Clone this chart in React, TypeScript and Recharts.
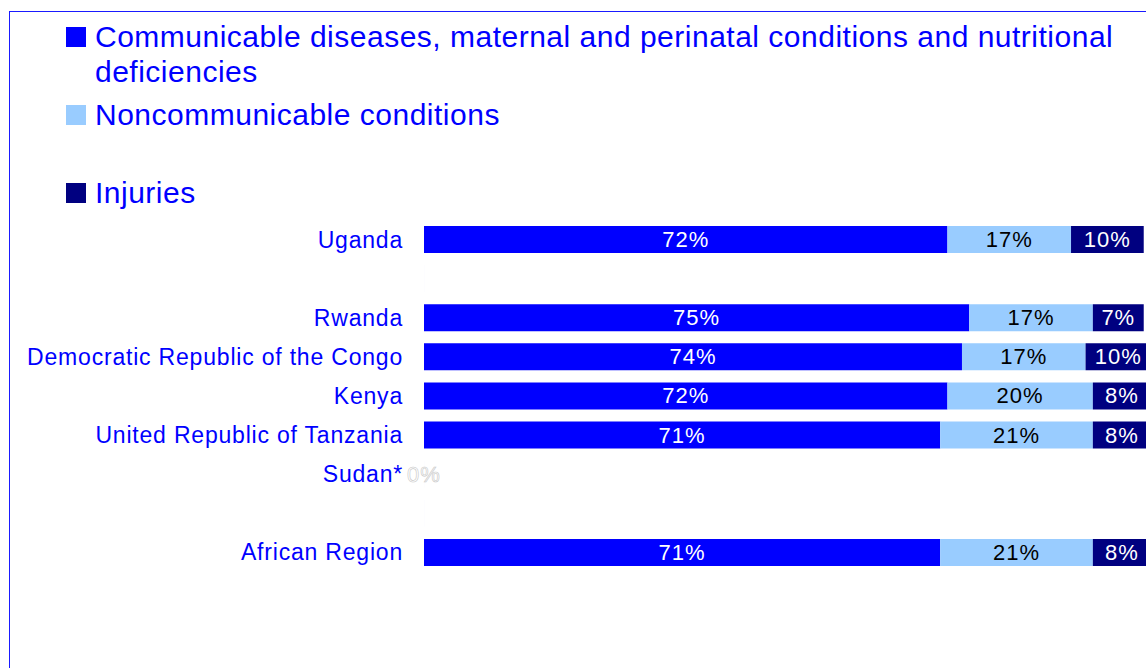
import { BarChart, Bar, XAxis, YAxis, LabelList } from "recharts";

const countries = [
  "Uganda",
  "",
  "Rwanda",
  "Democratic Republic of the Congo",
  "Kenya",
  "United Republic of Tanzania",
  "Sudan*",
  " ",
  "African Region",
];
const communicable = [72, null, 75, 74, 72, 71, 0, null, 71];
const noncommunicable = [17, null, 17, 17, 20, 21, null, null, 21];
const injuries = [10, null, 7, 10, 8, 8, null, null, 8];

const seriesNames = [
  "Communicable diseases, maternal and perinatal conditions and nutritional deficiencies",
  "Noncommunicable conditions",
  "Injuries",
];
const seriesColors = ["#0000ff", "#99ccff", "#000080"];
const labelColors = ["#ffffff", "#000000", "#ffffff"];

const data = countries.map((name, i) => ({
  name,
  communicable: communicable[i],
  noncommunicable: noncommunicable[i],
  injuries: injuries[i],
}));

const keys = ["communicable", "noncommunicable", "injuries"];

const FONT = "'Liberation Sans', Arial, sans-serif";

function makeLabel(color: string) {
  return (props: any) => {
    const { x, y, width, height, value } = props;
    if (value === null || value === undefined) return null;
    const cx = x + width / 2;
    const cy = y + height / 2;
    const zero = Number(value) === 0;
    return (
      <text
        x={cx}
        y={cy}
        textAnchor="middle"
        dominantBaseline="central"
        fontSize={22}
        fontFamily={FONT}
        fill={zero ? "#ffffff" : color}
        stroke={zero ? "#c8c8c8" : "none"}
        strokeWidth={zero ? 0.6 : 0}
        letterSpacing={1}
      >
        {`${value}%`}
      </text>
    );
  };
}

function CategoryTick(props: any) {
  const { x, y, payload } = props;
  return (
    <text
      x={x}
      y={y}
      textAnchor="end"
      dominantBaseline="central"
      fontSize={23}
      fontFamily={FONT}
      fill="#0000ff"
      letterSpacing={0.8}
    >
      {payload.value}
    </text>
  );
}

function ChartLegend() {
  return (
    <div style={{ position: "absolute", left: 66, top: 19, width: 1060 }}>
      {seriesNames.map((name, i) => (
        <div
          key={name}
          style={{ display: "flex", alignItems: "flex-start", height: 78 }}
        >
          <div
            style={{
              width: 20,
              height: 20,
              marginTop: 8,
              marginRight: 9,
              background: seriesColors[i],
              flex: "none",
            }}
          />
          <div
            style={{
              fontSize: 30,
              lineHeight: "35px",
              color: "#0000ff",
              fontFamily: FONT,
              letterSpacing: 0.5,
            }}
          >
            {name}
          </div>
        </div>
      ))}
    </div>
  );
}

export default function App() {
  return (
    <div
      style={{
        position: "absolute",
        left: 0,
        top: 0,
        width: 1146,
        height: 668,
        overflow: "hidden",
        background: "#ffffff",
      }}
    >
      <div
        style={{
          position: "absolute",
          left: 9,
          top: 11,
          width: 1300,
          height: 800,
          borderLeft: "1px solid #1a1aff",
          borderTop: "1px solid #1a1aff",
        }}
      />
      <ChartLegend />
      <div style={{ position: "absolute", left: 0, top: 0 }}>
        <BarChart
          width={1151}
          height={668}
          data={data}
          layout="vertical"
          margin={{ top: 220, right: 0, bottom: 96, left: 0 }}
          barSize={27}
        >
          <XAxis type="number" domain={[0, 100]} allowDataOverflow hide />
          <YAxis
            type="category"
            dataKey="name"
            width={424}
            tickLine={false}
            axisLine={false}
            tickMargin={15}
            interval={0}
            tick={<CategoryTick />}
          />
          {keys.map((k, i) => (
            <Bar
              key={k}
              dataKey={k}
              name={seriesNames[i]}
              stackId="a"
              fill={seriesColors[i]}
              minPointSize={i === 0 ? 0.01 : 0}
              isAnimationActive={false}
            >
              <LabelList dataKey={k} content={makeLabel(labelColors[i])} />
            </Bar>
          ))}
        </BarChart>
      </div>
    </div>
  );
}
